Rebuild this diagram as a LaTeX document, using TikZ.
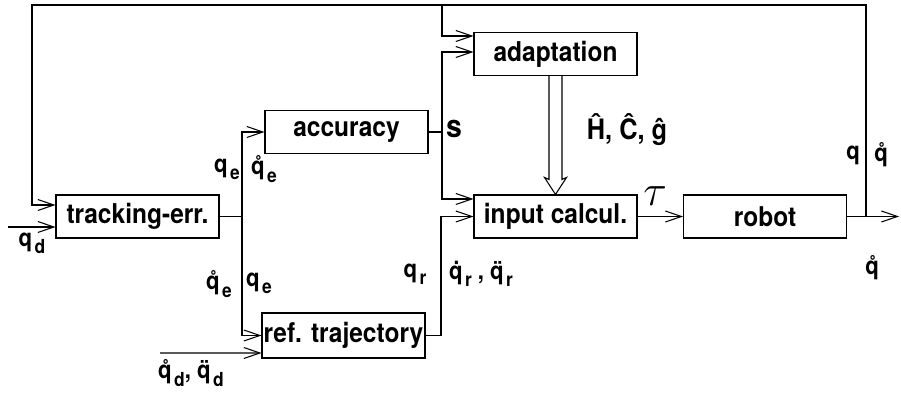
\documentclass[tikz,border=0pt]{standalone}
\usepackage{fontspec}
\setmainfont{TeX Gyre Heros}[FakeStretch=0.9]
\usetikzlibrary{arrows.meta}
\tikzset{
  block/.style={draw, minimum width=3.26cm, minimum height=0.86cm, inner sep=0pt,
    font=\fontsize{15.5}{17}\selectfont\bfseries},
  lbl/.style={inner sep=0pt, font=\fontsize{14}{16}\selectfont\bfseries},
}
\newcommand\sub[1]{\kern0.1em\raisebox{-0.55ex}{\fontsize{11}{11}\selectfont #1}}
\begin{document}
\begin{tikzpicture}[line width=0.6pt, >={Straight Barb[length=0.32cm,width=0.22cm]}]
  \useasboundingbox (0,0) rectangle (18.02,7.94);
  % blocks
  \node[block] (track) at (2.75,3.61) {tracking-err.};
  \node[block] (acc) at (6.93,5.30) {accuracy};
  \node[block] (adapt) at (11.11,6.86) {adaptation};
  \node[block] (input) at (11.11,3.61) {input calcul.};
  \node[block] (robot) at (15.30,3.61) {robot};
  \node[block, minimum height=0.9cm] (reftraj) at (6.87,1.23) {ref. trajectory};
  % junctions and free ends
  \coordinate (qdin) at (0.16,3.40);
  \coordinate (dqdin) at (3.20,0.88);
  \coordinate (tj) at (4.84,3.61);
  \coordinate (sj) at (8.84,5.30);
  \coordinate (rj) at (8.82,1.23);
  \coordinate (fb) at (17.32,3.61);
  \coordinate (tr) at (17.32,7.84);
  \coordinate (ta) at (8.84,7.84);
  \coordinate (tl) at (0.64,7.84);
  \coordinate (out) at (17.98,3.61);
  % connectors
  \draw[->] (qdin) -- ([yshift=-0.21cm]track.west);
  \draw (track.east) -- (tj);
  \draw[->] (tj) |- (acc.west);
  \draw[->] (tj) |- (reftraj.west);
  \draw[->] (dqdin) -- ([yshift=-0.35cm]reftraj.west);
  \draw (acc.east) -- (sj);
  \draw[->] (sj) |- ([yshift=0.04cm]adapt.west);
  \draw[->] (sj) |- ([yshift=0.35cm]input.west);
  \draw (reftraj.east) -- (rj);
  \draw[->] (rj) |- (input.west);
  \draw[->] (ta) |- ([yshift=0.36cm]adapt.west);
  % hollow arrow adaptation -> input calcul.
  \draw ([xshift=-0.13cm]adapt.south) -- ([xshift=-0.13cm,yshift=0.30cm]input.north)
    -- ([xshift=-0.22cm,yshift=0.34cm]input.north) -- (input.north)
    -- ([xshift=0.22cm,yshift=0.34cm]input.north)
    -- ([xshift=0.13cm,yshift=0.30cm]input.north) -- ([xshift=0.13cm]adapt.south);
  \draw[->] (input) -- (robot);
  \draw[->] (robot) -- (out);
  \draw[->] (fb) -- (tr) -- (tl) |- ([yshift=0.23cm]track.west);
  % labels
  \node[lbl] (lqd) at (0.64,3.08) {q\sub{d}};
  \node[lbl] (lqe1) at (4.54,4.56) {q\sub{e}};
  \node[lbl] (ldqe1) at (5.28,4.56) {\r{q}\sub{e}};
  \node[lbl] (ldqe2) at (4.38,2.26) {\r{q}\sub{e}};
  \node[lbl] (lqe2) at (5.18,2.28) {q\sub{e}};
  \node[lbl] (ldqd) at (3.82,0.48) {\r{q}\sub{d}, \"{q}\sub{d}};
  \node[lbl] (lqr) at (8.30,2.46) {q\sub{r}};
  \node[lbl] (ldqr) at (9.62,2.46) {\.{q}\sub{r} , \"{q}\sub{r}};
  \node[lbl, font=\fontsize{18}{20}\selectfont\bfseries] (ls) at (9.08,5.36) {s};
  \node[lbl, font=\fontsize{16}{18}\selectfont\bfseries] (lhat) at (12.54,5.34) {\^{H}, \^{C}, \^{g}};
  \node[lbl, font=\fontsize{26}{28}\selectfont] (ltau) at (13.10,4.02) {$\tau$};
  \node[lbl] (lq) at (17.06,4.84) {q};
  \node[lbl] (ldq) at (17.62,4.84) {\r{q}};
  \node[lbl] (ldq2) at (17.44,2.58) {\r{q}};
\end{tikzpicture}
\end{document}
